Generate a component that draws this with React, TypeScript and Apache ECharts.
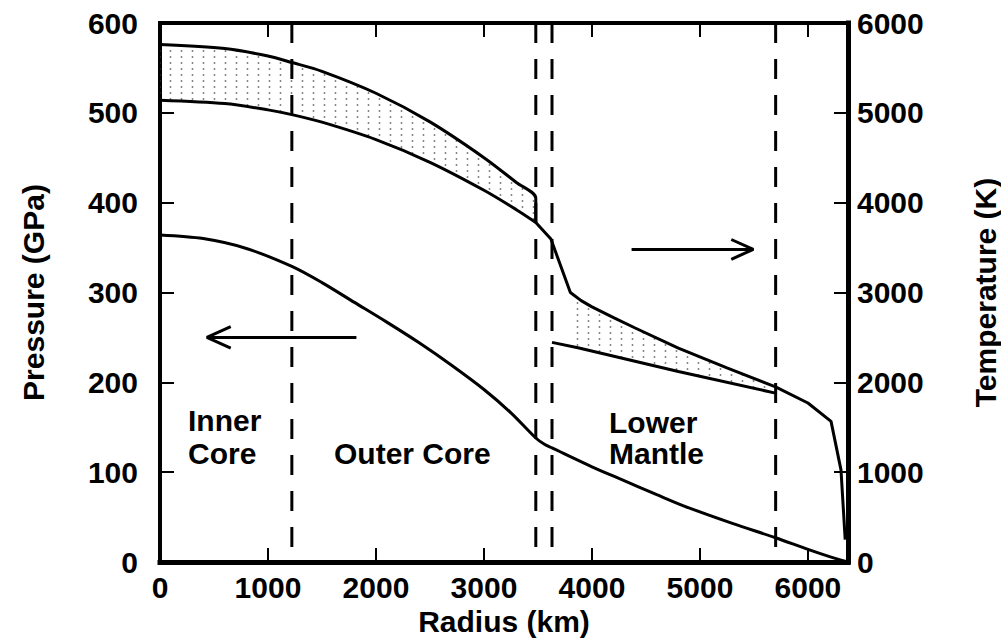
import React, { useEffect, useRef } from "react";
import * as echarts from "echarts";

// ---- data ----
const radiusTickValues = [0, 1000, 2000, 3000, 4000, 5000, 6000];
const pressureTickValues = [0, 100, 200, 300, 400, 500, 600];
const temperatureTickValues = [0, 1000, 2000, 3000, 4000, 5000, 6000];

// boundaries (km): inner-core boundary, core-mantle boundary, top of D'', 670 discontinuity
const boundaryRadii = [1221, 3480, 3630, 5701];

// Pressure (GPa) vs radius (km)
const pressureRadius = [0, 400, 800, 1221, 1500, 1800, 2100, 2400, 2700, 3000, 3250, 3480, 3560, 3630, 4000, 4250, 4600, 4860, 5300, 5700, 6000, 6200, 6371];
const pressureValues = [364, 360, 349, 329, 311, 289, 267, 244, 219, 192, 166, 138, 131, 127, 106, 93, 75, 62, 43, 27, 14, 6, 0];

// Upper bound of core temperature (K)
const coreUpperRadius = [0, 600, 1000, 1221, 1500, 2000, 2500, 3000, 3300, 3480, 3480];
const coreUpperTemp = [5760, 5716, 5632, 5560, 5462, 5218, 4899, 4501, 4225, 4050, 3780];

// Main temperature profile (K): lower core bound, continuing through the mantle
const mainRadius = [0, 600, 1000, 1221, 1500, 2000, 2500, 3000, 3300, 3480, 3620, 3800, 3900, 4000, 4200, 4400, 4800, 5250, 5700, 6000, 6214, 6306, 6345];
const mainTemp = [5140, 5103, 5033, 4980, 4896, 4702, 4449, 4138, 3922, 3780, 3595, 3000, 2910, 2840, 2720, 2605, 2380, 2160, 1950, 1770, 1565, 1026, 250];

// Lower bound of lower-mantle temperature (K)
const mantleLowerRadius = [3630, 3880, 4800, 5700];
const mantleLowerTemp = [2445, 2383, 2120, 1880];

// arrows (left: pressure axis, right: temperature axis)
const leftArrowShaft = [[1819, 250], [434, 250]];
const leftArrowHead = [[655, 262], [434, 250], [655, 238]];
const rightArrowShaft = [[4367, 3480], [5494, 3480]];
const rightArrowHead = [[5290, 3590], [5494, 3480], [5290, 3370]];

// region labels
const regionLabels = ["Inner\nCore", "Outer Core", "Lower\nMantle"];

const CMB = 3480;
const FONT = '"Liberation Sans", Arial, Helvetica, sans-serif';

function interp(xs: number[], ys: number[], x: number): number {
  for (let i = 0; i < xs.length - 1; i++) {
    if (x >= xs[i] && x <= xs[i + 1] && xs[i + 1] !== xs[i]) {
      const t = (x - xs[i]) / (xs[i + 1] - xs[i]);
      return ys[i] + t * (ys[i + 1] - ys[i]);
    }
  }
  return ys[ys.length - 1];
}

function zip(xs: number[], ys: number[]): number[][] {
  return xs.map((x, i) => [x, ys[i]]);
}

export default function App() {
  const ref = useRef<HTMLDivElement>(null);

  useEffect(() => {
    if (!ref.current) return;
    const chart = echarts.init(ref.current, null, { renderer: "svg" });

    const cvs = document.createElement("canvas");
    cvs.width = 11;
    cvs.height = 6;
    const ctx = cvs.getContext("2d")!;
    ctx.fillStyle = "#7a7a7a";
    ctx.beginPath();
    ctx.arc(5.5, 3, 0.95, 0, Math.PI * 2);
    ctx.fill();
    const pattern: any = { image: cvs, repeat: "repeat" };

    const mainPts = zip(mainRadius, mainTemp);
    const mainCore = mainPts.filter((p) => p[0] <= CMB);
    const mainMantle = mainPts.filter((p) => p[0] >= CMB);

    // core band polygon
    const coreTop = zip(coreUpperRadius, coreUpperTemp);
    const corePoly = [...coreTop, ...mainCore.slice().reverse()];

    // mantle band polygon
    const mStart = 3800;
    const mEnd = 5700;
    const mantleTop = mainPts.filter((p) => p[0] >= mStart && p[0] <= mEnd);
    const mantleBottom = [
      [mEnd, interp(mantleLowerRadius, mantleLowerTemp, mEnd)],
      ...zip(mantleLowerRadius, mantleLowerTemp).filter((p) => p[0] > mStart && p[0] < mEnd).reverse(),
      [mStart, interp(mantleLowerRadius, mantleLowerTemp, mStart)],
    ];
    const mantlePoly = [...mantleTop, ...mantleBottom];

    const polySeries = (poly: number[][]) => ({
      type: "custom",
      coordinateSystem: "cartesian2d",
      xAxisIndex: 0,
      yAxisIndex: 1,
      silent: true,
      z: 1,
      data: [[0, 0]],
      renderItem: (_params: any, api: any) => ({
        type: "polygon",
        shape: { points: poly.map((p) => api.coord(p)) },
        style: { fill: pattern, stroke: "none" },
      }),
    });

    const solid = (data: number[][], yAxisIndex: number, smooth: number | boolean = false) => ({
      type: "line",
      xAxisIndex: 0,
      yAxisIndex,
      data,
      symbol: "none",
      showSymbol: false,
      silent: true,
      smooth,
      z: 3,
      lineStyle: { color: "#000", width: 3 },
    });

    const dashed = boundaryRadii.map((r) => ({
      type: "line",
      xAxisIndex: 0,
      yAxisIndex: 0,
      data: [
        [r, 600],
        [r, 0],
      ],
      symbol: "none",
      silent: true,
      z: 2,
      lineStyle: { color: "#000", width: 3, type: [20, 16] },
    }));

    const labelStyle = {
      color: "#000",
      fontFamily: FONT,
      fontWeight: "bold" as const,
      fontSize: 30,
    };

    const textEl = (text: string, x: number, y: number, lh: number) => ({
      type: "text",
      x,
      y,
      silent: true,
      z: 10,
      style: {
        text,
        fill: "#000",
        fontFamily: FONT,
        fontWeight: "bold",
        fontSize: 30,
        lineHeight: lh,
        align: "left",
        verticalAlign: "middle",
        textAlign: "left",
        textVerticalAlign: "middle",
      },
    });

    const tick = { show: true, inside: true, length: 14, lineStyle: { color: "#000", width: 2 } };

    const option: any = {
      animation: false,
      backgroundColor: "#fff",
      grid: {
        left: 160,
        right: 153,
        top: 23,
        bottom: 76,
        containLabel: false,
        outerBoundsMode: "none",
      },
      xAxis: [
        {
          type: "value",
          position: "bottom",
          min: 0,
          max: 6371,
          interval: 1000,
          splitLine: { show: false },
          axisLine: { show: true, onZero: false, lineStyle: { color: "#000", width: 5, cap: "square" } },
          axisTick: tick,
          axisLabel: {
            ...labelStyle,
            margin: 10,
            showMaxLabel: false,
            formatter: (v: number) => (radiusTickValues.includes(v) ? String(v) : ""),
          },
          name: "Radius (km)",
          nameLocation: "middle",
          nameGap: 40,
          nameTextStyle: { ...labelStyle },
        },
        {
          type: "value",
          position: "top",
          min: 0,
          max: 6371,
          interval: 1000,
          splitLine: { show: false },
          axisLine: { show: true, onZero: false, lineStyle: { color: "#000", width: 4, cap: "square" } },
          axisTick: tick,
          axisLabel: { show: false },
        },
      ],
      yAxis: [
        {
          type: "value",
          position: "left",
          min: 0,
          max: 600,
          interval: 100,
          splitLine: { show: false },
          axisLine: { show: true, onZero: false, lineStyle: { color: "#000", width: 4, cap: "square" } },
          axisTick: tick,
          axisLabel: {
            ...labelStyle,
            margin: 22,
            formatter: (v: number) => (pressureTickValues.includes(v) ? String(v) : ""),
          },
          name: "Pressure (GPa)",
          nameLocation: "middle",
          nameRotate: 90,
          nameGap: 112,
          nameTextStyle: { ...labelStyle },
        },
        {
          type: "value",
          position: "right",
          min: 0,
          max: 6000,
          interval: 1000,
          splitLine: { show: false },
          axisLine: { show: true, onZero: false, lineStyle: { color: "#000", width: 5, cap: "square" } },
          axisTick: tick,
          axisLabel: {
            ...labelStyle,
            margin: 9,
            formatter: (v: number) => (temperatureTickValues.includes(v) ? String(v) : ""),
          },
          name: "Temperature (K)",
          nameLocation: "middle",
          nameRotate: 90,
          nameGap: 122,
          nameTextStyle: { ...labelStyle },
        },
      ],
      series: [
        polySeries(corePoly),
        polySeries(mantlePoly),
        ...dashed,
        solid(zip(pressureRadius, pressureValues), 0, 0.3),
        solid(coreTop, 1, 0.3),
        solid(mainCore, 1, 0.3),
        solid(mainMantle, 1, false),
        solid(zip(mantleLowerRadius, mantleLowerTemp), 1, false),
        solid(leftArrowShaft, 0),
        solid(leftArrowHead, 0),
        solid(rightArrowShaft, 1),
        solid(rightArrowHead, 1),
      ],
      graphic: [
        textEl(regionLabels[0], 188, 437, 33),
        textEl(regionLabels[1], 334, 453, 33),
        textEl(regionLabels[2], 609, 438, 31),
      ],
    };

    chart.setOption(option);
    return () => chart.dispose();
  }, []);

  return (
    <div
      ref={ref}
      style={{ position: "fixed", left: 0, top: 0, width: 1001, height: 638, background: "#fff" }}
    />
  );
}
